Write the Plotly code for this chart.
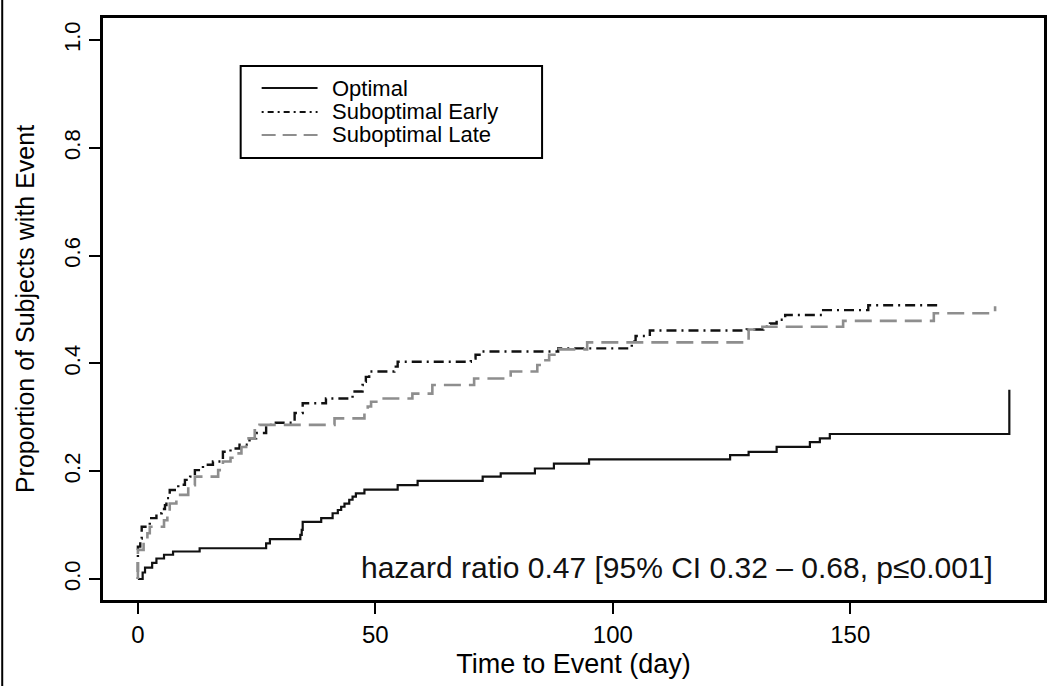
import plotly.graph_objects as go

# ---------------- data ----------------
series_names = ["Optimal", "Suboptimal Early", "Suboptimal Late"]

x_tick_vals = [0, 50, 100, 150]
y_tick_vals = [0.0, 0.2, 0.4, 0.6, 0.8, 1.0]
y_tick_text = ["0.0", "0.2", "0.4", "0.6", "0.8", "1.0"]

optimal_t = [0, 1.0, 1.5, 3.0, 3.9, 5.5, 7.4, 13.0, 27.0, 27.8, 34.2, 34.5, 34.7, 38.6,
             41.0, 42.1, 42.8, 43.5, 44.5, 45.2, 45.9, 47.7, 54.7, 58.9, 72.6, 76.4,
             83.6, 87.6, 95.0, 124.7, 128.6, 134.5, 141.5, 143.6, 145.7, 183.5]
optimal_p = [0.0, 0.012, 0.021, 0.030, 0.038, 0.045, 0.051, 0.057, 0.066, 0.074, 0.082, 0.091, 0.106, 0.113,
             0.122, 0.128, 0.134, 0.140, 0.147, 0.153, 0.159, 0.166, 0.174, 0.182, 0.190, 0.196,
             0.205, 0.214, 0.222, 0.230, 0.236, 0.245, 0.254, 0.261, 0.269, 0.351]

early_t = [0, 0, 0.5, 0.8, 2.5, 3.9, 5.0, 5.7, 6.0, 6.7, 8.5, 9.9, 11.0, 12.0, 13.7, 15.8,
           17.9, 19.5, 21.4, 23.5, 24.9, 27.0, 28.4, 33.0, 34.7, 39.6, 45.2, 47.3, 47.7,
           48.0, 48.7, 54.0, 54.7, 70.1, 71.1, 72.5, 88.5, 104.0, 104.8, 107.8, 128.2,
           131.7, 133.1, 134.5, 136.3, 144.3, 153.8, 168.8]
early_p = [0.0, 0.060, 0.075, 0.097, 0.113, 0.122, 0.130, 0.137, 0.150, 0.165, 0.175, 0.184, 0.190, 0.202, 0.212, 0.218,
           0.236, 0.242, 0.249, 0.261, 0.271, 0.286, 0.290, 0.308, 0.326, 0.335, 0.348, 0.360, 0.366,
           0.375, 0.385, 0.394, 0.403, 0.409, 0.416, 0.422, 0.428, 0.441, 0.451, 0.461, 0.463,
           0.468, 0.474, 0.481, 0.490, 0.499, 0.508, 0.510]

late_t = [0, 0, 1.2, 2.0, 2.5, 5.5, 6.2, 6.7, 8.1, 10.6, 12.0, 16.9, 17.9, 19.5, 20.7, 21.8,
          22.8, 24.6, 25.6, 41.4, 47.7, 48.4, 49.1, 50.8, 57.8, 62.0, 70.8, 78.5, 84.1,
          85.5, 86.6, 88.6, 94.6, 128.6, 131.5, 148.5, 167.6, 180.5]
late_p = [0.0, 0.054, 0.070, 0.085, 0.097, 0.109, 0.125, 0.140, 0.156, 0.174, 0.190, 0.202, 0.218, 0.225, 0.233, 0.245,
          0.261, 0.276, 0.286, 0.298, 0.310, 0.320, 0.329, 0.335, 0.344, 0.360, 0.372, 0.385, 0.397,
          0.406, 0.416, 0.426, 0.439, 0.463, 0.468, 0.479, 0.493, 0.506]

annotation_text = "hazard ratio 0.47 [95% CI 0.32 \u2013 0.68, p\u22640.001]"

# ---------------- styles ----------------
FONT = "Liberation Sans, Arial, Helvetica, sans-serif"
styles = [
    dict(color="#111111", width=2.2, dash="solid", legend_dash="solid"),
    dict(color="#111111", width=2.4, dash="2px,5px,10px,5px", legend_dash="2px,4px,6px,4px"),
    dict(color="#8e8e8e", width=2.6, dash="17px,8px", legend_dash="14px,7px"),
]
series = [(optimal_t, optimal_p), (early_t, early_p), (late_t, late_p)]

fig = go.Figure()
for name, (t, p), st in zip(series_names, series, styles):
    fig.add_trace(go.Scatter(
        x=t, y=p, mode="lines", name=name, line_shape="hv",
        line=dict(color=st["color"], width=st["width"], dash=st["dash"]),
        showlegend=False, hoverinfo="skip"))

# ---------------- manual legend (R style box) ----------------
shapes = []
annotations = []
leg_x0, leg_x1, leg_y0, leg_y1 = 0.1463, 0.4666, 0.7595, 0.9175
shapes.append(dict(type="rect", xref="paper", yref="paper", x0=leg_x0, x1=leg_x1,
                   y0=leg_y0, y1=leg_y1, line=dict(color="black", width=2), fillcolor="white", layer="above"))
row_y = [0.8797, 0.8385, 0.7990]
for name, st, ry in zip(series_names, styles, row_y):
    shapes.append(dict(type="line", xref="paper", yref="paper", x0=0.1686, x1=0.2280, y0=ry, y1=ry,
                       line=dict(color=st["color"], width=2.2, dash=st["legend_dash"]), layer="above"))
    annotations.append(dict(xref="paper", yref="paper", x=0.2428, y=ry, xanchor="left", yanchor="middle",
                            text=name, showarrow=False, borderpad=0,
                            font=dict(family=FONT, size=22, color="black")))

annotations.append(dict(xref="paper", yref="paper", x=0.948, y=0.0567, xanchor="right", yanchor="middle",
                        text=annotation_text, showarrow=False,
                        font=dict(family=FONT, size=30, color="#111111")))

# outer figure frame (left edge)
shapes.append(dict(type="line", xref="paper", yref="paper", x0=-0.1071, x1=-0.1071, y0=-0.15, y1=1.04,
                   line=dict(color="black", width=2)))

fig.update_layout(
    width=1059, height=686,
    margin=dict(l=103, r=13, t=18, b=86),
    paper_bgcolor="white", plot_bgcolor="white",
    font=dict(family=FONT, color="black"),
    shapes=shapes, annotations=annotations,
    xaxis=dict(range=[-7.35, 190.8], tickvals=x_tick_vals, ticktext=[str(v) for v in x_tick_vals],
               ticks="outside", ticklen=11, tickwidth=2, tickcolor="black",
               showline=True, linewidth=2.5, linecolor="black", mirror=True,
               showgrid=False, zeroline=False, tickfont=dict(size=24),
               title=dict(text="Time to Event (day)", font=dict(size=27), standoff=8)),
    yaxis=dict(range=[-0.039, 1.041], tickvals=y_tick_vals, ticktext=y_tick_text, tickangle=-90,
               ticks="outside", ticklen=11, tickwidth=2, tickcolor="black",
               showline=True, linewidth=2.5, linecolor="black", mirror=True,
               showgrid=False, zeroline=False, tickfont=dict(size=22),
               title=dict(text="Proportion of Subjects with Event", font=dict(size=25), standoff=19)),
)

fig.write_html("out.html")
